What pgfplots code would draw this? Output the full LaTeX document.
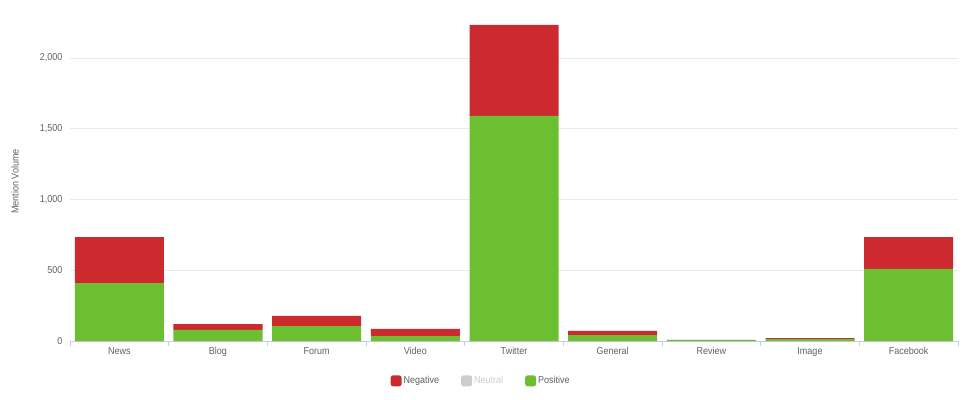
\documentclass[border=0pt]{standalone}
\usepackage{pgfplots}
\pgfplotsset{compat=1.18}
\usepackage{fontspec}
\setmainfont{Liberation Sans}[FakeStretch=0.9]
\definecolor{negc}{HTML}{CD2A2F}
\definecolor{posc}{HTML}{6BBF30}
\definecolor{neuc}{HTML}{CCCCCC}
\definecolor{txt}{HTML}{606060}
\definecolor{axc}{HTML}{C0D0E0}
\definecolor{gridc}{HTML}{EBEBEB}
\begin{document}
\begin{tikzpicture}
\begin{axis}[
  scale only axis,
  width=888bp, height=319bp,
  ybar stacked,
  bar width=89bp,
  xmin=-0.5, xmax=8.5,
  ymin=0, ymax=2255,
  xtick={0,...,8},
  xticklabels={News,Blog,Forum,Video,Twitter,General,Review,Image,Facebook},
  minor xtick={-0.5,0.5,...,8.5},
  major tick length=0pt,
  minor tick length=5bp,
  tick align=outside,
  ytick={0,500,1000,1500,2000},
  ymajorgrids,
  grid style={gridc, line width=0.8bp},
  axis x line*=bottom,
  axis y line*=left,
  y axis line style={draw=none},
  x axis line style={axc, line width=1bp},
  minor tick style={axc, line width=1bp},
  tick label style={txt, font=\fontsize{10bp}{11bp}\selectfont},
  /pgf/number format/1000 sep={,},
  /pgf/number format/assume math mode=true,
  xticklabel style={text height=7.5bp, text depth=2bp, yshift=-2bp},
  yticklabel style={xshift=-4bp},
  ylabel={Mention Volume},
  every axis y label/.style={at={(axis description cs:-0.062,0.5)}, rotate=90, anchor=center, txt, font=\fontsize{10bp}{11bp}\selectfont},
  legend columns=3,
  legend style={draw=none, at={(axis description cs:0.463,-0.125)}, anchor=center,
    font=\fontsize{10bp}{11bp}\selectfont, text=txt,
    /tikz/every even column/.append style={column sep=20bp}},
  legend image code/.code={\fill[#1, rounded corners=2.5bp] (0bp,-5.5bp) rectangle (11bp,5.5bp);},
]
\addplot[fill=posc, draw=none, forget plot] coordinates {(0,410) (1,78) (2,106) (3,35) (4,1591) (5,42) (6,7) (7,13) (8,509)};
\addplot[fill=negc, draw=none, forget plot] coordinates {(0,325) (1,42) (2,71) (3,50) (4,643) (5,29) (6,1) (7,8) (8,226)};
\addlegendimage{fill=negc, draw=none}
\addlegendentry{Negative}
\addlegendimage{fill=neuc, draw=none}
\addlegendentry{\textcolor{neuc}{Neutral}}
\addlegendimage{fill=posc, draw=none}
\addlegendentry{Positive}
\end{axis}
\path[use as bounding box] (-70bp,-59bp) rectangle (893bp,341bp);
\end{tikzpicture}
\end{document}
